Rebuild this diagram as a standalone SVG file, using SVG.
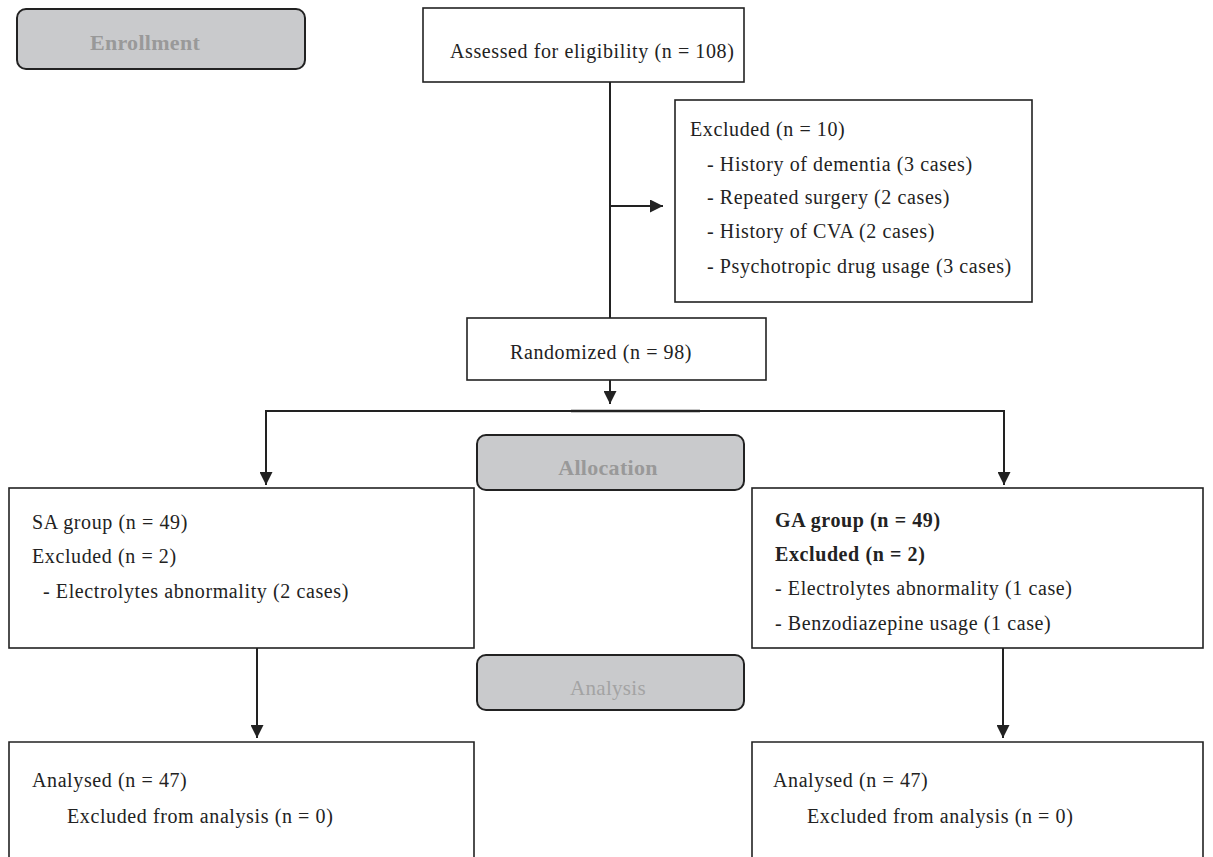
<svg xmlns="http://www.w3.org/2000/svg" width="1213" height="857" viewBox="0 0 1213 857">
<style>
.box{fill:#fff;stroke:#222;stroke-width:1.6}
.phase{fill:#c9cacc;stroke:#222;stroke-width:2}
.t{font-family:"Liberation Serif","DejaVu Serif",serif;font-size:20px;letter-spacing:0.6px;fill:#222}
.b{font-weight:bold}
.pt{font-family:"Liberation Serif","DejaVu Serif",serif;font-size:22px;letter-spacing:0.3px;fill:#999;text-anchor:middle}
.ln{fill:none;stroke:#222;stroke-width:2}
</style>
<defs>
<marker id="ah" viewBox="0 0 10 10" refX="10" refY="5" markerWidth="6.5" markerHeight="6.5" orient="auto" markerUnits="strokeWidth">
<path d="M0,0 L10,5 L0,10 Z" fill="#222"/>
</marker>
</defs>
<g id="connectors">
<line class="ln" x1="610" y1="82" x2="610" y2="318"/>
<line class="ln" x1="610" y1="206" x2="663" y2="206" marker-end="url(#ah)"/>
<line class="ln" x1="610" y1="380" x2="610" y2="404" marker-end="url(#ah)"/>
<line class="ln" x1="266" y1="411" x2="1004" y2="411"/>
<line x1="571" y1="411" x2="700" y2="411" stroke="#222" stroke-width="2.6"/>
<line class="ln" x1="266" y1="410" x2="266" y2="485" marker-end="url(#ah)"/>
<line class="ln" x1="1004" y1="410" x2="1004" y2="485" marker-end="url(#ah)"/>
<line class="ln" x1="257" y1="648" x2="257" y2="738" marker-end="url(#ah)"/>
<line class="ln" x1="1003" y1="648" x2="1003" y2="738" marker-end="url(#ah)"/>
</g>
<g id="enrollment">
<rect class="phase" x="17" y="9" width="288" height="60" rx="9"/>
<text class="pt b" x="145" y="50">Enrollment</text>
</g>
<g id="assessed">
<rect class="box" x="423" y="8" width="321" height="74"/>
<text class="t" x="450" y="58">Assessed for eligibility (n = 108)</text>
</g>
<g id="excluded">
<rect class="box" x="675" y="100" width="357" height="202"/>
<text class="t" x="690" y="136">Excluded (n = 10)</text>
<text class="t" x="707" y="171">- History of dementia (3 cases)</text>
<text class="t" x="707" y="204">- Repeated surgery (2 cases)</text>
<text class="t" x="707" y="238">- History of CVA (2 cases)</text>
<text class="t" x="707" y="273">- Psychotropic drug usage (3 cases)</text>
</g>
<g id="randomized">
<rect class="box" x="467" y="318" width="299" height="62"/>
<text class="t" x="510" y="359">Randomized (n = 98)</text>
</g>
<g id="allocation">
<rect class="phase" x="477" y="435" width="267" height="55" rx="9"/>
<text class="pt b" x="608" y="475">Allocation</text>
</g>
<g id="sa">
<rect class="box" x="9" y="488" width="465" height="160"/>
<text class="t" x="32" y="529">SA group (n = 49)</text>
<text class="t" x="32" y="563">Excluded (n = 2)</text>
<text class="t" x="43" y="598">- Electrolytes abnormality (2 cases)</text>
</g>
<g id="ga">
<rect class="box" x="752" y="488" width="451" height="160"/>
<text class="t b" x="775" y="527">GA group (n = 49)</text>
<text class="t b" x="775" y="561">Excluded (n = 2)</text>
<text class="t" x="775" y="595">- Electrolytes abnormality (1 case)</text>
<text class="t" x="775" y="630">- Benzodiazepine usage (1 case)</text>
</g>
<g id="analysis">
<rect class="phase" x="477" y="655" width="267" height="55" rx="9"/>
<text class="pt" x="608" y="695" style="font-size:21px;fill:#a3a3a3">Analysis</text>
</g>
<g id="analysed-sa">
<path class="box" d="M9,860 V742 H474 V860"/>
<text class="t" x="32" y="787">Analysed (n = 47)</text>
<text class="t" x="67" y="823">Excluded from analysis (n = 0)</text>
</g>
<g id="analysed-ga">
<path class="box" d="M752,860 V742 H1203 V860"/>
<text class="t" x="773" y="787">Analysed (n = 47)</text>
<text class="t" x="807" y="823">Excluded from analysis (n = 0)</text>
</g>
</svg>
